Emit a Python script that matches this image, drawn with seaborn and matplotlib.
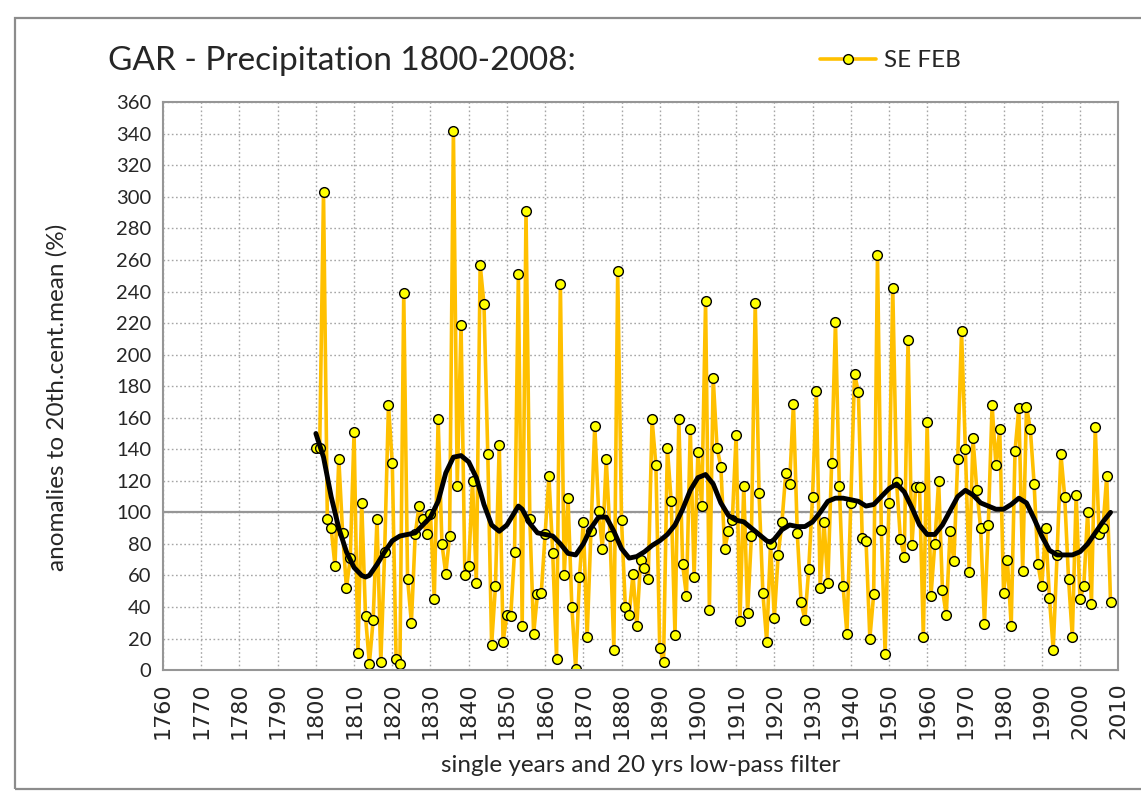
import numpy as np
import pandas as pd
import matplotlib
matplotlib.use("Agg")
import matplotlib.pyplot as plt
import seaborn as sns
from matplotlib.patches import Rectangle

# single years, SE Germany February precipitation anomalies (%), 1800-2008
years = list(range(1800, 2009))
anomalies = [
    141, 141, 303, 96, 90, 66, 134, 87, 52, 71,
    151, 11, 106, 34, 4, 32, 96, 5, 75, 168,
    131, 7, 4, 239, 58, 30, 86, 104, 96, 86,
    99, 45, 159, 80, 61, 85, 342, 117, 219, 60,
    66, 120, 55, 257, 232, 137, 16, 53, 143, 18,
    35, 34, 75, 251, 28, 291, 96, 23, 48, 49,
    86, 123, 74, 7, 245, 60, 109, 40, 1, 59,
    94, 21, 88, 155, 101, 77, 134, 85, 13, 253,
    95, 40, 35, 61, 28, 70, 65, 58, 159, 130,
    14, 5, 141, 107, 22, 159, 67, 47, 153, 59,
    138, 104, 234, 38, 185, 141, 129, 77, 88, 95,
    149, 31, 117, 36, 85, 233, 112, 49, 18, 80,
    33, 73, 94, 125, 118, 169, 87, 43, 32, 64,
    110, 177, 52, 94, 55, 131, 221, 117, 53, 23,
    106, 188, 176, 84, 82, 20, 48, 263, 89, 10,
    106, 242, 119, 83, 72, 209, 79, 116, 116, 21,
    157, 47, 80, 120, 51, 35, 88, 69, 134, 215,
    140, 62, 147, 114, 90, 29, 92, 168, 130, 153,
    49, 70, 28, 139, 166, 63, 167, 153, 118, 67,
    53, 90, 46, 13, 73, 137, 110, 58, 21, 111,
    45, 53, 100, 42, 154, 86, 90, 123, 43,
]

# 20 yrs low-pass filter
filter_years = [1800, 1802, 1804, 1806, 1808, 1810, 1812, 1813, 1814, 1816,
                1818, 1820, 1822, 1824, 1826, 1828, 1830, 1832, 1834, 1836,
                1838, 1840, 1842, 1844, 1846, 1848, 1850, 1852, 1853, 1854,
                1856, 1858, 1860, 1862, 1864, 1866, 1868, 1870, 1872, 1874,
                1876, 1878, 1880, 1882, 1884, 1886, 1888, 1890, 1892, 1894,
                1896, 1898, 1900, 1902, 1904, 1906, 1908, 1910, 1912, 1914,
                1916, 1918, 1919, 1920, 1922, 1924, 1926, 1928, 1930, 1932,
                1934, 1936, 1938, 1940, 1942, 1944, 1946, 1948, 1950, 1952,
                1954, 1956, 1958, 1960, 1962, 1964, 1966, 1968, 1970, 1972,
                1974, 1976, 1978, 1980, 1982, 1984, 1986, 1988, 1990, 1992,
                1994, 1996, 1998, 2000, 2002, 2004, 2006, 2008]
filter_values = [150, 135, 110, 90, 75, 65, 60, 59, 60, 67,
                 75, 82, 85, 86, 87, 92, 97, 107, 125, 135,
                 136, 132, 122, 105, 92, 88, 92, 100, 104, 102,
                 93, 87, 86, 85, 80, 74, 73, 80, 90, 97,
                 97, 88, 77, 71, 72, 75, 79, 82, 86, 92,
                 102, 114, 122, 124, 118, 106, 98, 95, 94, 90,
                 86, 82, 81, 83, 89, 92, 91, 91, 94, 100,
                 107, 109, 109, 108, 107, 104, 105, 110, 115, 118,
                 113, 103, 92, 86, 86, 92, 101, 110, 114, 111,
                 106, 104, 102, 102, 105, 109, 106, 96, 85, 76,
                 73, 73, 73, 75, 80, 87, 94, 100]

x_ticks = list(range(1760, 2011, 10))
y_ticks = list(range(0, 361, 20))

df = pd.DataFrame({"year": years, "value": anomalies})
flt = pd.DataFrame({"year": filter_years, "value": filter_values})

sns.set_style("white")
plt.rcParams["font.family"] = ["Lato", "DejaVu Sans"]

fig = plt.figure(figsize=(11.41, 7.93), dpi=100)
ax = fig.add_axes([0.1429, 0.155, 0.8371, 0.716])

sns.lineplot(data=df, x="year", y="value", ax=ax, color="#FFC000", lw=2.6,
             marker="o", markersize=7, markerfacecolor="#FFFF00",
             markeredgecolor="black", markeredgewidth=1.0, label="SE FEB")
sns.lineplot(data=flt, x="year", y="value", ax=ax, color="black", lw=3.5,
             label="_nolegend_")

ax.set_xlim(1760, 2010)
ax.set_ylim(0, 360)
ax.set_xticks(x_ticks)
ax.set_xticklabels([str(t) for t in x_ticks], rotation=90, fontsize=16,
                   family="DejaVu Sans")
ax.set_yticks(y_ticks)
ax.set_yticklabels([str(t) for t in y_ticks], fontsize=14.5)
ax.grid(True, color="#a6a6a6", linestyle=(0, (1.2, 1.8)), lw=1.0)
ax.axhline(100, color="#969696", lw=1.6, zorder=1)
ax.tick_params(axis="both", length=5, color="#969696", direction="out")
for s in ax.spines.values():
    s.set_color("#969696")
    s.set_linewidth(1.5)

ax.set_xlabel("single years and 20 yrs low-pass filter", fontsize=17.5,
              labelpad=12)
ax.set_ylabel("anomalies to 20th.cent.mean (%)", fontsize=17.5, labelpad=14)
ax.yaxis.set_label_coords(-0.1, 0.48)

fig.text(0.095, 0.923, "GAR - Precipitation 1800-2008:", fontsize=24,
         va="center")
leg = ax.legend(loc="center left", bbox_to_anchor=(0.665, 1.073), frameon=False,
                fontsize=17.5, handlelength=2.3, handletextpad=0.35)

# outer chart frame
fig.patches.append(Rectangle((15 / 1141, 1 - 789 / 793), 1.1, (789 - 18) / 793,
                             transform=fig.transFigure, fill=False,
                             edgecolor="#8c8c8c", lw=1.6))

fig.savefig("out.png", dpi=100)
